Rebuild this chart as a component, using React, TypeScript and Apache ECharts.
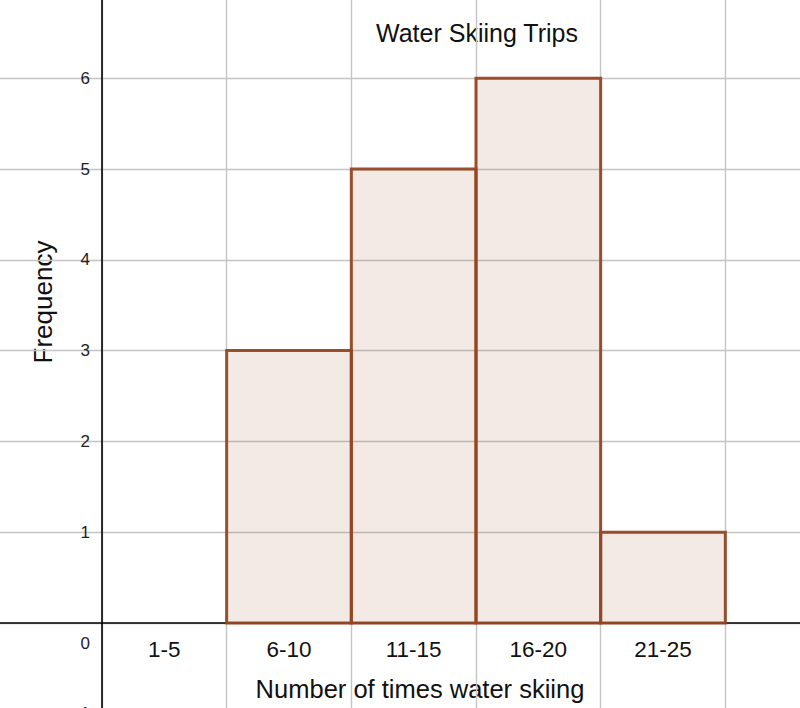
import React, { useEffect, useRef } from "react";
import * as echarts from "echarts";

const categories = ["1-5", "6-10", "11-15", "16-20", "21-25"];
const binStarts = [0, 1, 2, 3, 4];
const binEnds = [1, 2, 3, 4, 5];
const frequencies = [0, 3, 5, 6, 1];
const yTickLabels = ["-1", "1", "2", "3", "4", "5", "6"];

export default function App() {
  const ref = useRef<HTMLDivElement>(null);
  useEffect(() => {
    if (!ref.current) return;
    const chart = echarts.init(ref.current, undefined, { renderer: "svg" });
    const data = categories.map((c, i) => [binStarts[i], binEnds[i], frequencies[i], c]);
    const font = "'Liberation Sans', Arial, Helvetica, sans-serif";
    const gridLeft = -22.7;
    const gridRight = -50;
    const gridTop = -12.6;
    const gridBottom = -5.8;
    const unitX = (800 - gridLeft - gridRight) / 7;
    const unitY = (708 - gridTop - gridBottom) / 8;
    chart.setOption({
      animation: false,
      backgroundColor: "#ffffff",
      grid: {
        left: gridLeft,
        right: gridRight,
        top: gridTop,
        bottom: gridBottom,
        containLabel: false,
        outerBoundsMode: "none",
      },
      xAxis: {
        type: "value",
        min: -1,
        max: 6,
        interval: 1,
        position: "bottom",
        offset: -unitY,
        axisLine: { show: true, onZero: false, lineStyle: { color: "#000", width: 1.6 } },
        axisTick: { show: false },
        splitLine: { show: true, lineStyle: { color: "#c4c4c4", width: 1.4 } },
        axisLabel: {
          show: true,
          formatter: (v: number) => (v === 0 ? "0" : ""),
          align: "right",
          padding: [0, 12, 0, 0],
          margin: 12,
          fontSize: 17,
          color: "#222",
          fontFamily: font,
        },
      },
      yAxis: {
        type: "value",
        min: -1,
        max: 7,
        interval: 1,
        position: "left",
        offset: -unitX,
        axisLine: { show: true, onZero: false, lineStyle: { color: "#000", width: 1.6 } },
        axisTick: { show: false },
        splitLine: { show: true, lineStyle: { color: "#c4c4c4", width: 1.4 } },
        axisLabel: {
          show: true,
          formatter: (v: number) => (yTickLabels.includes(String(v)) ? String(v) : ""),
          margin: 12,
          fontSize: 17,
          color: "#222",
          fontFamily: font,
        },
      },
      series: [
        {
          type: "custom",
          data,
          clip: false,
          renderItem: (params: any, api: any) => {
            const x0 = api.value(0);
            const x1 = api.value(1);
            const f = api.value(2);
            const label = categories[params.dataIndex];
            const topLeft = api.coord([x0, f]);
            const bottomRight = api.coord([x1, 0]);
            const center = api.coord([(x0 + x1) / 2, 0]);
            const children: any[] = [];
            if (f > 0) {
              children.push({
                type: "rect",
                shape: {
                  x: topLeft[0],
                  y: topLeft[1],
                  width: bottomRight[0] - topLeft[0],
                  height: bottomRight[1] - topLeft[1],
                },
                style: {
                  fill: "rgba(160,82,45,0.12)",
                  stroke: "rgba(150,70,35,0.95)",
                  lineWidth: 3,
                },
              });
            }
            children.push({
              type: "text",
              x: center[0],
              y: center[1] + 26,
              style: {
                text: label,
                fontSize: 22.5,
                fontFamily: font,
                fill: "#111",
                align: "center",
                verticalAlign: "middle",
              },
            });
            return { type: "group", children };
          },
        },
      ],
      graphic: [
        {
          type: "text",
          x: 477,
          y: 33,
          style: {
            text: "Water Skiing Trips",
            fontSize: 25,
            fontFamily: font,
            fill: "#111",
            align: "center",
            verticalAlign: "middle",
          },
        },
        {
          type: "text",
          x: 420,
          y: 689,
          style: {
            text: "Number of times water skiing",
            fontSize: 25.5,
            fontFamily: font,
            fill: "#111",
            align: "center",
            verticalAlign: "middle",
          },
        },
        {
          type: "text",
          x: 43,
          y: 302,
          rotation: Math.PI / 2,
          style: {
            text: "Frequency",
            fontSize: 26,
            fontFamily: font,
            fill: "#111",
            align: "center",
            verticalAlign: "middle",
          },
        },
      ],
    });
    return () => chart.dispose();
  }, []);
  return (
    <div
      ref={ref}
      style={{ position: "fixed", left: 0, top: 0, width: 800, height: 708 }}
    />
  );
}
